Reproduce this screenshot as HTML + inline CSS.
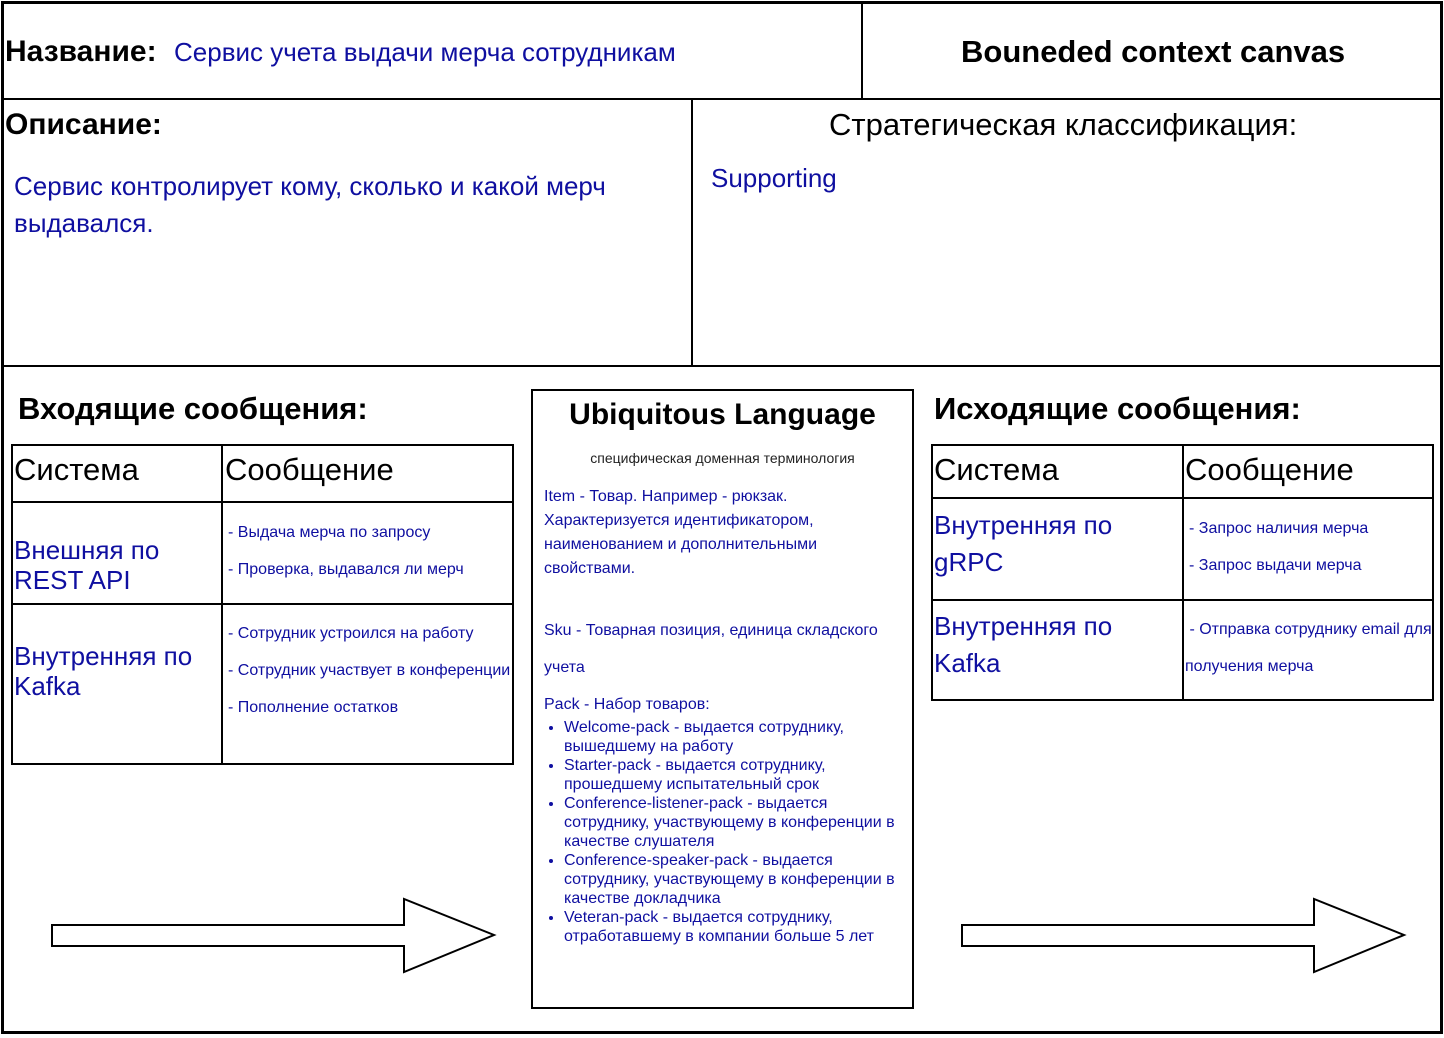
<!DOCTYPE html>
<html><head><meta charset="utf-8"><style>
body{margin:0;width:1444px;height:1038px;background:#fff;position:relative;font-family:"Liberation Sans",sans-serif;overflow:hidden}
.a{position:absolute;white-space:nowrap}
.b{color:#0f0fa0}
.ln{position:absolute;background:#000}
.box{position:absolute;border:2px solid #000;box-sizing:border-box}
ul{margin:4px 0 0 0;padding-left:20px}
</style></head><body>
<div class="box" style="left:1px;top:1px;width:1442px;height:1033px;border-width:3px"></div>
<div class="ln" style="left:2px;top:98px;width:1440px;height:2px"></div>
<div class="ln" style="left:861px;top:2px;width:2px;height:97px"></div>
<div class="ln" style="left:691px;top:99px;width:2px;height:267px"></div>
<div class="ln" style="left:2px;top:365px;width:1440px;height:2px"></div>

<div class="a" style="left:5px;top:35px;font-size:30px;font-weight:bold">Название:</div>
<div class="a b" style="left:174px;top:37px;font-size:26px">Сервис учета выдачи мерча сотрудникам</div>
<div class="a" style="left:961px;top:34px;font-size:31px;font-weight:bold">Bouneded context canvas</div>
<div class="a" style="left:5px;top:108px;font-size:30px;font-weight:bold">Описание:</div>
<div class="a b" style="left:14px;top:168px;font-size:26px;line-height:37px">Сервис контролирует кому, сколько и какой мерч<br>выдавался.</div>
<div class="a" style="left:829px;top:107px;font-size:31px">Стратегическая классификация:</div>
<div class="a b" style="left:711px;top:163px;font-size:26px">Supporting</div>

<div class="a" style="left:18px;top:391px;font-size:31px;font-weight:bold">Входящие сообщения:</div>
<div class="a" style="left:934px;top:391px;font-size:31px;font-weight:bold">Исходящие сообщения:</div>

<div class="box" style="left:11px;top:444px;width:503px;height:321px"></div>
<div class="ln" style="left:12px;top:501px;width:501px;height:2px"></div>
<div class="ln" style="left:12px;top:603px;width:501px;height:2px"></div>
<div class="ln" style="left:221px;top:445px;width:2px;height:319px"></div>
<div class="a" style="left:14px;top:452px;font-size:31px">Система</div>
<div class="a" style="left:225px;top:452px;font-size:31px">Сообщение</div>
<div class="a b" style="left:14px;top:535px;font-size:26px;line-height:30px">Внешняя по<br>REST API</div>
<div class="a b" style="left:228px;top:514px;font-size:16px;line-height:37px">- Выдача мерча по запросу<br>- Проверка, выдавался ли мерч</div>
<div class="a b" style="left:14px;top:641px;font-size:26px;line-height:30px">Внутренняя по<br>Kafka</div>
<div class="a b" style="left:228px;top:615px;font-size:16px;line-height:37px">- Сотрудник устроился на работу<br>- Сотрудник участвует в конференции<br>- Пополнение остатков</div>

<div class="box" style="left:931px;top:444px;width:503px;height:257px"></div>
<div class="ln" style="left:932px;top:497px;width:501px;height:2px"></div>
<div class="ln" style="left:932px;top:599px;width:501px;height:2px"></div>
<div class="ln" style="left:1182px;top:445px;width:2px;height:255px"></div>
<div class="a" style="left:934px;top:452px;font-size:31px">Система</div>
<div class="a" style="left:1185px;top:452px;font-size:31px">Сообщение</div>
<div class="a b" style="left:934px;top:507px;font-size:26px;line-height:37px">Внутренняя по<br>gRPC</div>
<div class="a b" style="left:1189px;top:510px;font-size:16px;line-height:37px">- Запрос наличия мерча<br>- Запрос выдачи мерча</div>
<div class="a b" style="left:934px;top:608px;font-size:26px;line-height:37px">Внутренняя по<br>Kafka</div>
<div class="a b" style="left:1185px;top:611px;font-size:16px;line-height:37px">&nbsp;- Отправка сотруднику email для<br>получения мерча</div>

<div class="box" style="left:531px;top:389px;width:383px;height:620px"></div>
<div class="a" style="left:532px;top:398px;width:381px;text-align:center;font-size:30px;font-weight:bold">Ubiquitous Language</div>
<div class="a" style="left:532px;top:450px;width:381px;text-align:center;font-size:14px;color:#222">специфическая доменная терминология</div>
<div class="a b" style="left:544px;top:485px;font-size:16px;line-height:24px">Item - Товар. Например - рюкзак.<br>Характеризуется идентификатором,<br>наименованием и дополнительными<br>свойствами.</div>
<div class="a b" style="left:544px;top:612px;font-size:16px;line-height:37px">Sku - Товарная позиция, единица складского<br>учета</div>
<div class="a b" style="left:544px;top:695px;font-size:16px;line-height:19px;white-space:normal;width:356px">Pack - Набор товаров:
<ul>
<li>Welcome-pack - выдается сотруднику, вышедшему на работу</li>
<li>Starter-pack - выдается сотруднику, прошедшему испытательный срок</li>
<li>Conference-listener-pack - выдается сотруднику, участвующему в конференции в качестве слушателя</li>
<li>Conference-speaker-pack - выдается сотруднику, участвующему в конференции в качестве докладчика</li>
<li>Veteran-pack - выдается сотруднику, отработавшему в компании больше 5 лет</li>
</ul></div>

<svg class="a" style="left:0;top:0" width="1444" height="1038">
<polygon points="52,925 404,925 404,899 494,935 404,972 404,946 52,946" fill="#fff" stroke="#000" stroke-width="2"/>
<polygon points="962,925 1314,925 1314,899 1404,935 1314,972 1314,946 962,946" fill="#fff" stroke="#000" stroke-width="2"/>
</svg>
</body></html>
